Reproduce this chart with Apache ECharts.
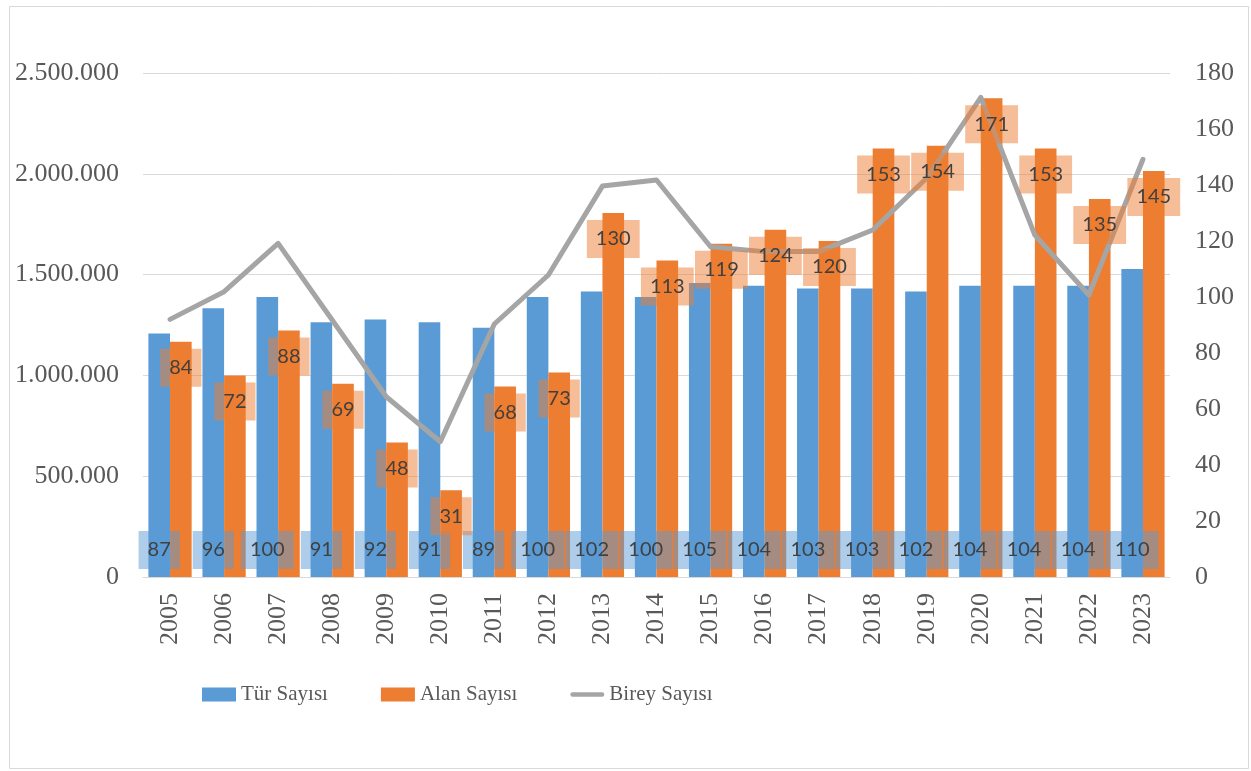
<!DOCTYPE html>
<html>
<head>
<meta charset="utf-8">
<script src="https://cdn.jsdelivr.net/npm/echarts@6/dist/echarts.min.js"></script>
<style>
  html, body { margin: 0; padding: 0; background: #ffffff; }
  #chart { width: 1251px; height: 771px; }
</style>
</head>
<body>
<div id="chart"></div>
<script>
const years = ['2005','2006','2007','2008','2009','2010','2011','2012','2013','2014','2015','2016','2017','2018','2019','2020','2021','2022','2023'];
const turSayisi = [87, 96, 100, 91, 92, 91, 89, 100, 102, 100, 105, 104, 103, 103, 102, 104, 104, 104, 110];
const alanSayisi = [84, 72, 88, 69, 48, 31, 68, 73, 130, 113, 119, 124, 120, 153, 154, 171, 153, 135, 145];
const bireySayisi = [1278000, 1415000, 1655000, 1275000, 894000, 671000, 1255000, 1498000, 1939000, 1969000, 1638000, 1614000, 1614000, 1721000, 1979000, 2379000, 1696000, 1399000, 2072000];
const seriesNames = ['Tür Sayısı', 'Alan Sayısı', 'Birey Sayısı'];

function dotThousands(v) {
  return String(Math.round(v)).replace(/\B(?=(\d{3})+(?!\d))/g, '.');
}

const chart = echarts.init(document.getElementById('chart'), null, { renderer: 'canvas' });
const serif = '"Liberation Serif", "Times New Roman", serif';
const axisText = { color: '#595959', fontFamily: serif, fontSize: 26 };
const labelBase = {
  show: true,
  color: '#404040',
  fontFamily: 'Lato, "Open Sans", sans-serif',
  fontSize: 20,
  lineHeight: 22,
  padding: [8, 9]
};
const blueLabel = Object.assign({}, labelBase, {
  position: 'insideBottom', distance: 8, backgroundColor: 'rgba(91,155,213,0.5)'
});
const orangeLabel = Object.assign({}, labelBase, {
  position: 'insideTop', distance: 7, backgroundColor: 'rgba(237,125,49,0.5)'
});
const lineIcon = 'path://M0,0 L0.01,0 L0,0.01 Z M0,14 L0.01,14 L0,13.99 Z M2.5,4.5 L34.5,4.5 A2.5,2.5 0 0 1 34.5,9.5 L2.5,9.5 A2.5,2.5 0 0 1 2.5,4.5 Z';

const hiddenCat = {
  type: 'category', data: years, show: false, gridIndex: 0,
  axisLine: { show: false }, axisTick: { show: false }, axisLabel: { show: false }
};

chart.setOption({
  animation: false,
  backgroundColor: '#ffffff',
  graphic: [{
    type: 'rect',
    shape: { x: 9.5, y: 6.5, width: 1239, height: 762 },
    style: { fill: 'none', stroke: '#D9D9D9', lineWidth: 1 },
    silent: true,
    z: -10
  }],
  grid: { left: 143, right: 81, top: 73, bottom: 194 },
  legend: {
    left: 197,
    top: 679,
    itemWidth: 34,
    itemHeight: 14,
    itemGap: 53,
    textStyle: { color: '#595959', fontFamily: serif, fontSize: 21 },
    data: [
      { name: seriesNames[0], icon: 'rect' },
      { name: seriesNames[1], icon: 'rect' },
      { name: seriesNames[2], icon: lineIcon, itemStyle: { color: '#A5A5A5' } }
    ]
  },
  xAxis: [
    {
      type: 'category',
      data: years,
      axisTick: { show: false },
      axisLine: { lineStyle: { color: '#D9D9D9', width: 1 } },
      axisLabel: Object.assign({ rotate: 90, margin: 16 }, axisText)
    },
    hiddenCat
  ],
  yAxis: [
    {
      type: 'value',
      min: 0, max: 2500000, interval: 500000,
      axisLine: { show: false },
      axisTick: { show: false },
      splitLine: { lineStyle: { color: '#D9D9D9', width: 1 } },
      axisLabel: Object.assign({ margin: 24, formatter: dotThousands }, axisText)
    },
    {
      type: 'value',
      min: 0, max: 180, interval: 20,
      axisLine: { show: false },
      axisTick: { show: false },
      splitLine: { show: false },
      axisLabel: Object.assign({ margin: 25 }, axisText)
    }
  ],
  series: [
    {
      name: seriesNames[0],
      type: 'bar',
      xAxisIndex: 0, yAxisIndex: 1,
      data: turSayisi,
      barGap: '0%',
      barCategoryGap: '20%',
      itemStyle: { color: '#5B9BD5' },
      label: { show: false },
      z: 2
    },
    {
      name: seriesNames[1],
      type: 'bar',
      xAxisIndex: 0, yAxisIndex: 1,
      data: alanSayisi,
      barGap: '0%',
      barCategoryGap: '20%',
      itemStyle: { color: '#ED7D31' },
      label: { show: false },
      z: 2
    },
    {
      name: seriesNames[2],
      type: 'line',
      xAxisIndex: 0, yAxisIndex: 0,
      data: bireySayisi,
      symbol: 'none',
      showSymbol: false,
      lineStyle: { color: '#A5A5A5', width: 5, cap: 'round', join: 'round' },
      itemStyle: { color: '#A5A5A5' },
      z: 3
    },
    {
      name: 'tur-labels',
      type: 'bar',
      xAxisIndex: 1, yAxisIndex: 1,
      data: turSayisi,
      barGap: '0%',
      barCategoryGap: '20%',
      itemStyle: { color: 'rgba(0,0,0,0)' },
      label: blueLabel,
      silent: true,
      z: 4
    },
    {
      name: 'alan-labels',
      type: 'bar',
      xAxisIndex: 1, yAxisIndex: 1,
      data: alanSayisi,
      barGap: '0%',
      barCategoryGap: '20%',
      itemStyle: { color: 'rgba(0,0,0,0)' },
      label: orangeLabel,
      silent: true,
      z: 4
    }
  ]
});
</script>
</body>
</html>
